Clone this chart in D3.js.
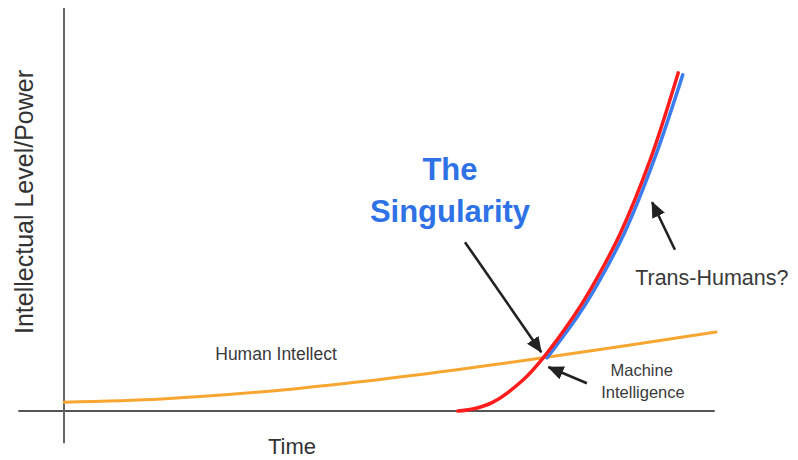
<!DOCTYPE html>
<html>
<head>
<meta charset="utf-8">
<script src="https://cdn.jsdelivr.net/npm/d3@7"></script>
<style>
  html, body { margin: 0; padding: 0; background: #fff; }
  svg { display: block; }
  text { font-family: "Liberation Sans", Arial, sans-serif; }
</style>
</head>
<body>
<svg id="chart" width="798" height="460"></svg>
<script>
// ---- Data (time units 0..100, intellect units 0..100) ----
const humanTime   = [0, 15, 30, 45, 60, 73.5, 100];
const humanLevel  = [2.2, 3.0, 4.7, 7.2, 10.2, 13.2, 19.6];

const machineTime  = [60.4, 62.7, 65.8, 70.4, 73.5, 78.1, 80.7, 85.3, 89.9, 94.2];
const machineLevel = [0, 0.5, 2.2, 7.7, 13.2, 23.3, 30.0, 44.0, 62.3, 83.9];

const transTime  = [74.1, 78.7, 81.3, 85.9, 90.5, 94.9];
const transLevel = [13.2, 23.3, 30.0, 44.0, 62.3, 83.4];

const xAxisLabel = "Time";
const yAxisLabel = "Intellectual Level/Power";
const labels = [
  { text: "Human Intellect", t: 23.2, v: 12.7, anchor: "start", size: 17.5, color: "#3a3a3a", weight: 400 },
  { text: "Machine", t: 88.6, v: 8.7, anchor: "middle", size: 16.5, color: "#3a3a3a", weight: 400 },
  { text: "Intelligence", t: 88.8, v: 3.2, anchor: "middle", size: 16.5, color: "#3a3a3a", weight: 400 },
  { text: "Trans-Humans?", t: 87.6, v: 31.3, anchor: "start", size: 21.5, color: "#3a3a3a", weight: 400 },
  { text: "The", t: 59.2, v: 57.3, anchor: "middle", size: 31, color: "#2f72e6", weight: 700 },
  { text: "Singularity", t: 59.2, v: 46.9, anchor: "middle", size: 31, color: "#2f72e6", weight: 700 }
];
// arrows: tail -> tip, in data units
const arrows = [
  { t0: 61.5, v0: 41.9, t1: 73.2, v1: 14.6 },
  { t0: 80.2, v0: 6.9,  t1: 74.3, v1: 10.9 },
  { t0: 93.7, v0: 40.0, t1: 90.2, v1: 51.8 }
];

// ---- Scales ----
const svg = d3.select("#chart");
const x = d3.scaleLinear().domain([0, 100]).range([64, 716]);
const y = d3.scaleLinear().domain([0, 100]).range([411, 8]);

// ---- Axes (plain domain lines) ----
svg.append("line")
  .attr("x1", x(-7)).attr("x2", x(99.8))
  .attr("y1", y(0)).attr("y2", y(0))
  .attr("stroke", "#555").attr("stroke-width", 2);
svg.append("line")
  .attr("x1", x(0)).attr("x2", x(0))
  .attr("y1", y(-8)).attr("y2", y(100))
  .attr("stroke", "#666").attr("stroke-width", 2);

// ---- Series ----
const line = d3.line().x(d => x(d[0])).y(d => y(d[1])).curve(d3.curveCatmullRom.alpha(0.5));
const zip = (a, b) => a.map((t, i) => [t, b[i]]);

svg.append("path").datum(zip(humanTime, humanLevel))
  .attr("d", line).attr("fill", "none")
  .attr("stroke", "#f6a631").attr("stroke-width", 3).attr("stroke-linecap", "round");

svg.append("path").datum(zip(transTime, transLevel))
  .attr("d", line).attr("fill", "none")
  .attr("stroke", "#3b7def").attr("stroke-width", 3.5).attr("stroke-linecap", "round");

svg.append("path").datum(zip(machineTime, machineLevel))
  .attr("d", line).attr("fill", "none")
  .attr("stroke", "#ff1c1c").attr("stroke-width", 3.5).attr("stroke-linecap", "round");

// ---- Arrows ----
svg.append("defs").append("marker")
  .attr("id", "head").attr("markerUnits", "userSpaceOnUse")
  .attr("viewBox", "0 0 16 14").attr("refX", 15).attr("refY", 7)
  .attr("markerWidth", 16).attr("markerHeight", 14).attr("orient", "auto")
  .append("path").attr("d", "M0,0 L16,7 L0,14 Z").attr("fill", "#222");

svg.selectAll("line.arrow").data(arrows).join("line")
  .attr("class", "arrow")
  .attr("x1", d => x(d.t0)).attr("y1", d => y(d.v0))
  .attr("x2", d => x(d.t1)).attr("y2", d => y(d.v1))
  .attr("stroke", "#222").attr("stroke-width", 2.6)
  .attr("marker-end", "url(#head)");

// ---- Labels ----
svg.selectAll("text.lbl").data(labels).join("text")
  .attr("class", "lbl")
  .attr("x", d => x(d.t)).attr("y", d => y(d.v))
  .attr("text-anchor", d => d.anchor)
  .attr("font-size", d => d.size)
  .attr("font-weight", d => d.weight)
  .attr("fill", d => d.color)
  .text(d => d.text);

svg.append("text")
  .attr("x", 292).attr("y", 454)
  .attr("text-anchor", "middle").attr("font-size", 22).attr("fill", "#333")
  .text(xAxisLabel);

svg.append("text")
  .attr("transform", "translate(33,202) rotate(-90)")
  .attr("text-anchor", "middle").attr("font-size", 25).attr("fill", "#333")
  .text(yAxisLabel);
</script>
</body>
</html>
